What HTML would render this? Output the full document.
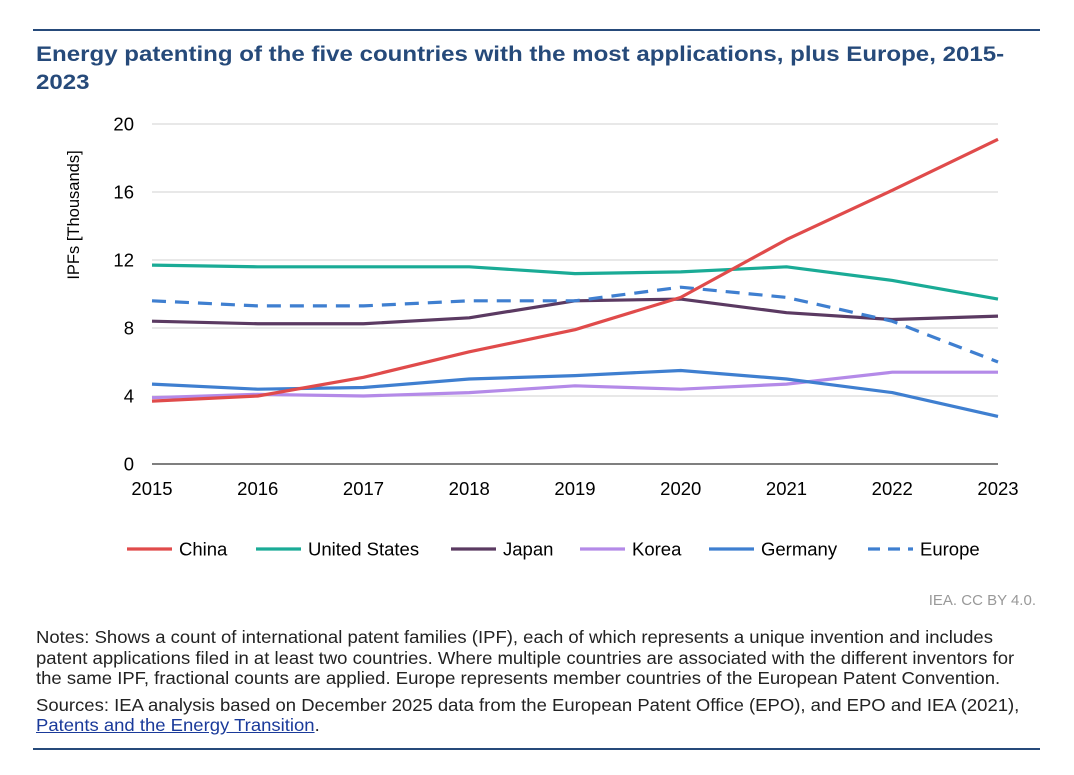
<!DOCTYPE html>
<html><head><meta charset="utf-8"><style>
body{margin:0;background:#fff;font-family:"Liberation Sans",Arial,sans-serif;}
#wrap{position:relative;width:1074px;height:775px;overflow:hidden;}
.rule{position:absolute;left:33px;width:1007px;height:2px;background:#264a7a;}
#title{position:absolute;left:36px;top:40px;width:865px;font-size:21.3px;font-weight:bold;color:#264a7a;line-height:28px;transform:scaleX(1.13);transform-origin:0 0;}
#notes{position:absolute;left:36px;top:627px;width:932px;font-size:17.3px;color:#222;line-height:20.5px;transform:scaleX(1.07);transform-origin:0 0;}
#credit{position:absolute;right:38px;top:592px;font-size:15px;color:#999;}
a{color:#1a3a9a;text-decoration:underline;}
</style></head><body>
<div id="wrap">
<div class="rule" style="top:29px"></div>
<div id="title">Energy patenting of the five countries with the most applications, plus Europe, 2015-2023</div>
<svg id="chart" width="1074" height="580" style="position:absolute;left:0;top:0"></svg>
<div id="credit">IEA. CC BY 4.0.</div>
<div id="notes">Notes: Shows a count of international patent families (IPF), each of which represents a unique invention and includes patent applications filed in at least two countries. Where multiple countries are associated with the different inventors for the same IPF, fractional counts are applied. Europe represents member countries of the European Patent Convention.<div style="margin-top:6px">Sources: IEA analysis based on December 2025 data from the European Patent Office (EPO), and EPO and IEA (2021), <a>Patents and the Energy Transition</a>.</div></div>
<div class="rule" style="top:748px"></div>
</div>
<script>
const years=[2015,2016,2017,2018,2019,2020,2021,2022,2023];
const yTicks=[0,4,8,12,16,20];
const china=[3.7,4.0,5.1,6.6,7.9,9.8,13.2,16.1,19.1];
const us=[11.7,11.6,11.6,11.6,11.2,11.3,11.6,10.8,9.7];
const japan=[8.4,8.25,8.25,8.6,9.6,9.7,8.9,8.5,8.7];
const korea=[3.9,4.1,4.0,4.2,4.6,4.4,4.7,5.4,5.4];
const germany=[4.7,4.4,4.5,5.0,5.2,5.5,5.0,4.2,2.8];
const europe=[9.6,9.3,9.3,9.6,9.6,10.4,9.8,8.4,6.0];
const seriesNames=["China","United States","Japan","Korea","Germany","Europe"];
const NS="http://www.w3.org/2000/svg";
const svg=document.getElementById('chart');
const x0=152,x1=998,y0=464,y1=124;
const xs=i=>x0+(x1-x0)*i/(years.length-1);
const ys=v=>y0-(y0-y1)*v/20;
function mk(t,a,txt){const e=document.createElementNS(NS,t);for(const k in a)e.setAttribute(k,a[k]);if(txt!==undefined)e.textContent=txt;svg.appendChild(e);return e;}
yTicks.forEach(t=>{
 const g=mk('line',{x1:x0,x2:x1,y1:ys(t),y2:ys(t),stroke:t===0?'#333':'#d9d9d9','stroke-width':1.3});
 
 
 const l=mk('text',{x:134,y:ys(t)+6.5,'text-anchor':'end','font-size':18.5,fill:'#000'},t);
 
 
});
years.forEach((y,i)=>{
 const l=mk('text',{x:xs(i),y:495,'text-anchor':'middle','font-size':18.5,fill:'#000'},y);
 
 
});
const yt=mk('text',{x:0,y:0,transform:'translate(79,215) rotate(-90)','text-anchor':'middle','font-size':16.5,fill:'#000'},'IPFs [Thousands]');


const data=[china,us,japan,korea,germany,europe];
const colors=['#e04b4b','#1aab96','#5b3a62','#b48ae8','#3f7fd0','#3f7fd0'];
const order=[3,4,2,1,5,0];
order.forEach(s=>{
 const p=mk('path',{d:data[s].map((v,i)=>(i?'L':'M')+xs(i)+','+ys(v)).join(''),fill:'none',stroke:colors[s],'stroke-width':3.2,'stroke-linejoin':'round'});
 if(s===5)p.setAttribute('stroke-dasharray','14,9');
 
 
});
const legX=[127,256,451,580,709,868];
seriesNames.forEach((n,s)=>{
 const ln=mk('line',{x1:legX[s],x2:legX[s]+45,y1:549,y2:549,stroke:colors[s],'stroke-width':3.2});
 if(s===5)ln.setAttribute('stroke-dasharray','12,8');
 
 
 const t=mk('text',{x:legX[s]+52,y:555.5,'font-size':18.5,fill:'#000'},n);
 
 
});
</script>
</body></html>
